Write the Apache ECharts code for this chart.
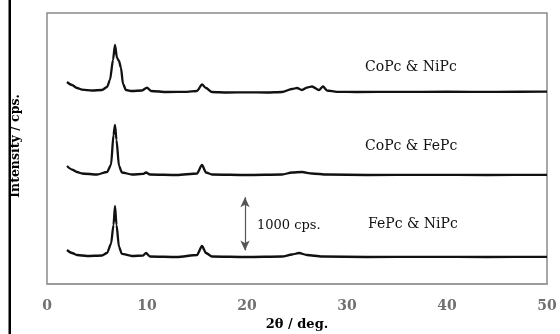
<!DOCTYPE html>
<html>
<head>
<meta charset="utf-8">
<script src="https://cdn.jsdelivr.net/npm/echarts@6/dist/echarts.min.js"></script>
<style>
  html, body { margin: 0; padding: 0; background: #fff; }
  #chart { width: 560px; height: 334px; }
</style>
</head>
<body>
<div id="chart"></div>
<script>
// 2θ / intensity (cps, already stacked with offsets as plotted)
const coNi = [
  [2.0, 3727], [2.5, 3672], [3.0, 3616], [3.5, 3588], [4.5, 3570], [5.5, 3579],
  [6.0, 3635], [6.3, 3764], [6.6, 4133], [6.8, 4410], [7.0, 4170], [7.2, 4114],
  [7.4, 3985], [7.6, 3690], [7.9, 3579], [8.5, 3561], [9.5, 3570], [10.0, 3625],
  [10.4, 3561], [12, 3542], [14, 3545], [15.0, 3561], [15.5, 3681], [15.9, 3616],
  [16.5, 3542], [18, 3533], [20, 3536], [22, 3533], [23.5, 3542], [24.5, 3598],
  [25.0, 3616], [25.5, 3579], [26.0, 3625], [26.5, 3644], [27.2, 3579], [27.6, 3644],
  [28.0, 3570], [29, 3545], [31, 3542], [35, 3545], [40, 3548], [45, 3545], [50, 3550]
]
const coFe = [
  [2.0, 2177], [2.5, 2112], [3.0, 2066], [3.5, 2039], [5.0, 2020], [6.0, 2066],
  [6.4, 2196], [6.65, 2749], [6.8, 2934], [6.95, 2657], [7.2, 2177], [7.5, 2057],
  [8.5, 2020], [9.6, 2030], [9.9, 2057], [10.3, 2020], [13, 2011], [15.0, 2039],
  [15.5, 2196], [15.9, 2057], [16.5, 2020], [20, 2011], [23.5, 2020], [24.5, 2057],
  [25.5, 2066], [26.5, 2039], [28, 2020], [32, 2011], [38, 2014], [44, 2011], [50, 2013]
]
const feNi = [
  [2.0, 627], [2.5, 572], [3.0, 535], [4.0, 517], [5.5, 526], [6.0, 572],
  [6.4, 738], [6.65, 1089], [6.8, 1439], [6.95, 1089], [7.2, 683], [7.5, 554],
  [8.5, 517], [9.6, 526], [9.9, 572], [10.3, 507], [13, 498], [15.0, 535],
  [15.5, 701], [15.9, 572], [16.5, 507], [20, 498], [23.5, 507], [24.5, 544],
  [25.2, 572], [26, 535], [27.5, 507], [32, 498], [38, 501], [44, 498], [50, 500]
]
const seriesNames = ['CoPc & NiPc', 'CoPc & FePc', 'FePc & NiPc']
const xTicks = [0, 10, 20, 30, 40, 50]
const scaleBar = [[19.8, 620], [19.8, 1600]]

const chart = echarts.init(document.getElementById('chart'))

const lineStyle = { color: '#111', width: 2.3 }
const mkSeries = (name, data) => ({
  name: name,
  type: 'line',
  data: data,
  showSymbol: false,
  smooth: 0.25,
  smoothMonotone: 'x',
  lineStyle: lineStyle,
  animation: false
})

const series = [
  mkSeries(seriesNames[0], coNi),
  mkSeries(seriesNames[1], coFe),
  mkSeries(seriesNames[2], feNi)
]
series[2].markLine = {
  silent: true,
  symbol: ['arrow', 'arrow'],
  symbolSize: [7, 10],
  lineStyle: { color: '#555', width: 1.2, type: 'solid' },
  itemStyle: { color: '#222' },
  label: { show: false },
  data: [[{ coord: scaleBar[0] }, { coord: scaleBar[1] }]]
}

const labelFont = { fontFamily: 'DejaVu Serif', fontSize: 14, fill: '#111' }

chart.setOption({
  backgroundColor: '#fff',
  animation: false,
  grid: {
    left: 47, right: 13, top: 13, bottom: 50, outerBoundsMode: 'none', containLabel: false,
    show: true, borderColor: '#8a8a8a', borderWidth: 1.5
  },
  xAxis: {
    type: 'value', min: 0, max: 50, interval: 10,
    name: '2θ / deg.', nameLocation: 'middle', nameGap: 34,
    nameTextStyle: { fontFamily: 'DejaVu Serif', fontWeight: 'bold', fontSize: 13, color: '#000' },
    axisLine: { show: true, lineStyle: { color: '#999', width: 1.5 } },
    axisTick: { show: false },
    splitLine: { show: false },
    axisLabel: {
      margin: 15, color: '#707070', fontFamily: 'DejaVu Serif', fontWeight: 'bold', fontSize: 14,
      formatter: v => xTicks.includes(v) ? String(v) : ''
    }
  },
  yAxis: {
    type: 'value', min: 0, max: 5000,
    axisLine: { show: false }, axisTick: { show: false },
    axisLabel: { show: false }, splitLine: { show: false }
  },
  graphic: [
    { type: 'rect', shape: { x: 8.5, y: 0, width: 2.5, height: 334 }, style: { fill: '#000' } },
    {
      type: 'text', x: 16, y: 146, rotation: Math.PI / 2,
      style: {
        text: 'Intensity / cps.', fontFamily: 'DejaVu Serif', fontWeight: 'bold', fontSize: 12.5,
        fill: '#000', align: 'center', verticalAlign: 'middle'
      }
    },
    { type: 'text', left: 365, top: 60, style: Object.assign({ text: seriesNames[0] }, labelFont) },
    { type: 'text', left: 365, top: 139, style: Object.assign({ text: seriesNames[1] }, labelFont) },
    { type: 'text', left: 368, top: 217, style: Object.assign({ text: seriesNames[2] }, labelFont) },
    { type: 'text', left: 257, top: 219, style: { text: '1000 cps.', fontFamily: 'DejaVu Serif', fontSize: 13, fill: '#111' } }
  ],
  series: series
})
</script>
</body>
</html>
